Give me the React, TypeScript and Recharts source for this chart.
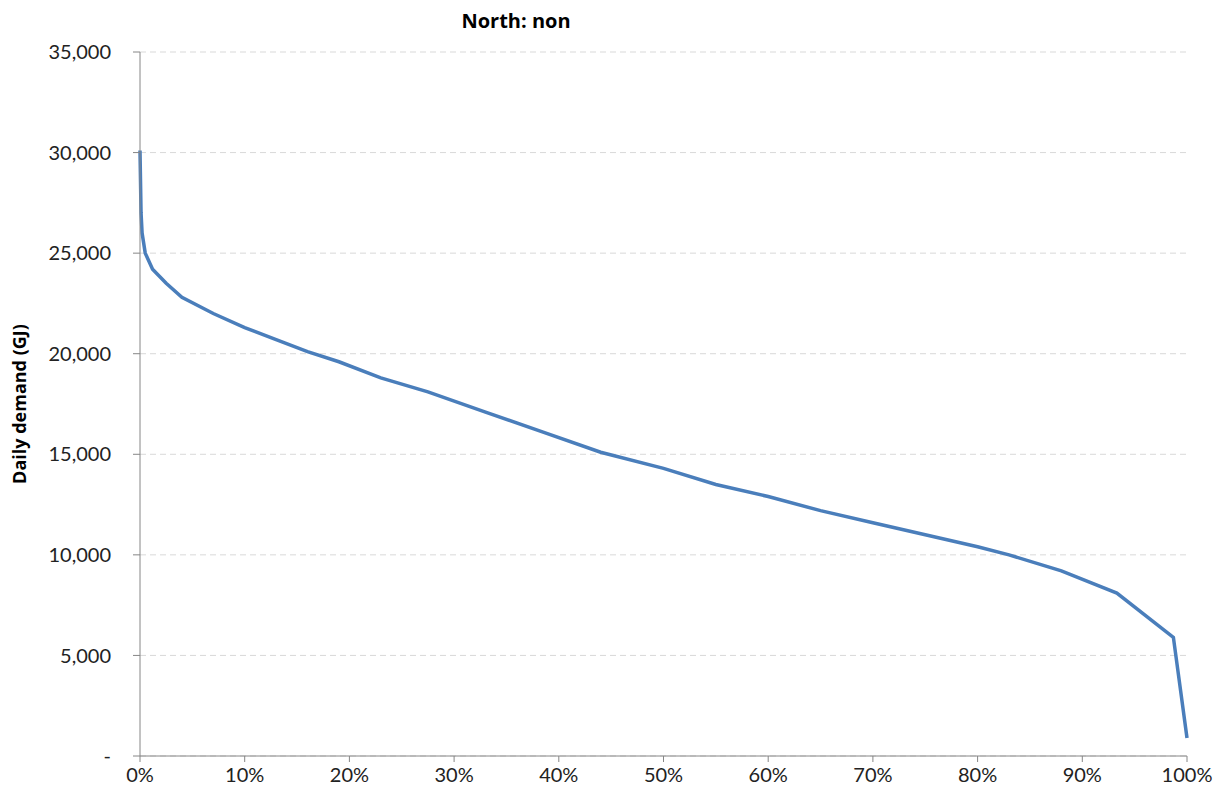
import React from 'react';
import { LineChart, Line, XAxis, YAxis, CartesianGrid } from 'recharts';

// share of days (%) and daily demand (GJ)
const shareOfDays = [0, 0.1, 0.2, 0.5, 1.2, 2.5, 4, 7, 10, 13, 16, 19, 23, 27.5, 33, 38.5, 44, 50, 55, 60, 65, 70, 75, 80, 83, 88, 93.3, 98.7, 100];
const dailyDemand = [30100, 27000, 26000, 25000, 24200, 23500, 22800, 22000, 21300, 20700, 20100, 19600, 18800, 18100, 17100, 16100, 15100, 14300, 13500, 12900, 12200, 11600, 11000, 10400, 10000, 9200, 8100, 5900, 900];
const xTicks = [0, 10, 20, 30, 40, 50, 60, 70, 80, 90, 100];
const yTicks = [0, 5000, 10000, 15000, 20000, 25000, 30000, 35000];

const data = shareOfDays.map((x, i) => ({ x, demand: dailyDemand[i] }));

const font = 'Lato, "Noto Sans", sans-serif';
const boldFont = '"Open Sans", Lato, sans-serif';

const fmtY = (v: number) => (v === 0 ? '-' : v.toLocaleString('en-US'));

const App: React.FC = () => {
  return (
    <div style={{ position: 'absolute', left: 0, top: 0, width: 1226, height: 799, background: '#fff', fontFamily: font }}>
      <LineChart
        width={1226}
        height={799}
        data={data}
        margin={{ top: 52, right: 39, bottom: 13, left: 60 }}
      >
        <CartesianGrid vertical={false} stroke="#d9d9d9" strokeDasharray="6 4" />
        <XAxis
          type="number"
          dataKey="x"
          domain={[0, 100]}
          ticks={xTicks}
          tickFormatter={(v: number) => `${v}%`}
          stroke="#868686"
          tickSize={6}
          tickMargin={6}
          height={30}
          tick={{ fill: '#222', fontSize: 20, fontFamily: font }}
          interval={0}
        />
        <YAxis
          type="number"
          domain={[0, 35000]}
          ticks={yTicks}
          tickFormatter={fmtY}
          width={80}
          stroke="#868686"
          tickSize={7}
          tickMargin={22}
          tick={{ fill: '#222', fontSize: 20, fontFamily: font }}
          interval={0}
        />
        <Line
          type="linear"
          dataKey="demand"
          stroke="#4a7ebb"
          strokeWidth={3.5}
          dot={false}
          isAnimationActive={false}
        />
        <text x={516} y={28} textAnchor="middle" fontWeight={700} fontSize={20} fontFamily={boldFont} fill="#000">
          North: non
        </text>
        <text
          x={26}
          y={404}
          transform="rotate(-90 26 404)"
          textAnchor="middle"
          fontWeight={700}
          fontSize={18}
          fontFamily={boldFont}
          fill="#000"
        >
          Daily demand (GJ)
        </text>
      </LineChart>
    </div>
  );
};

export default App;
